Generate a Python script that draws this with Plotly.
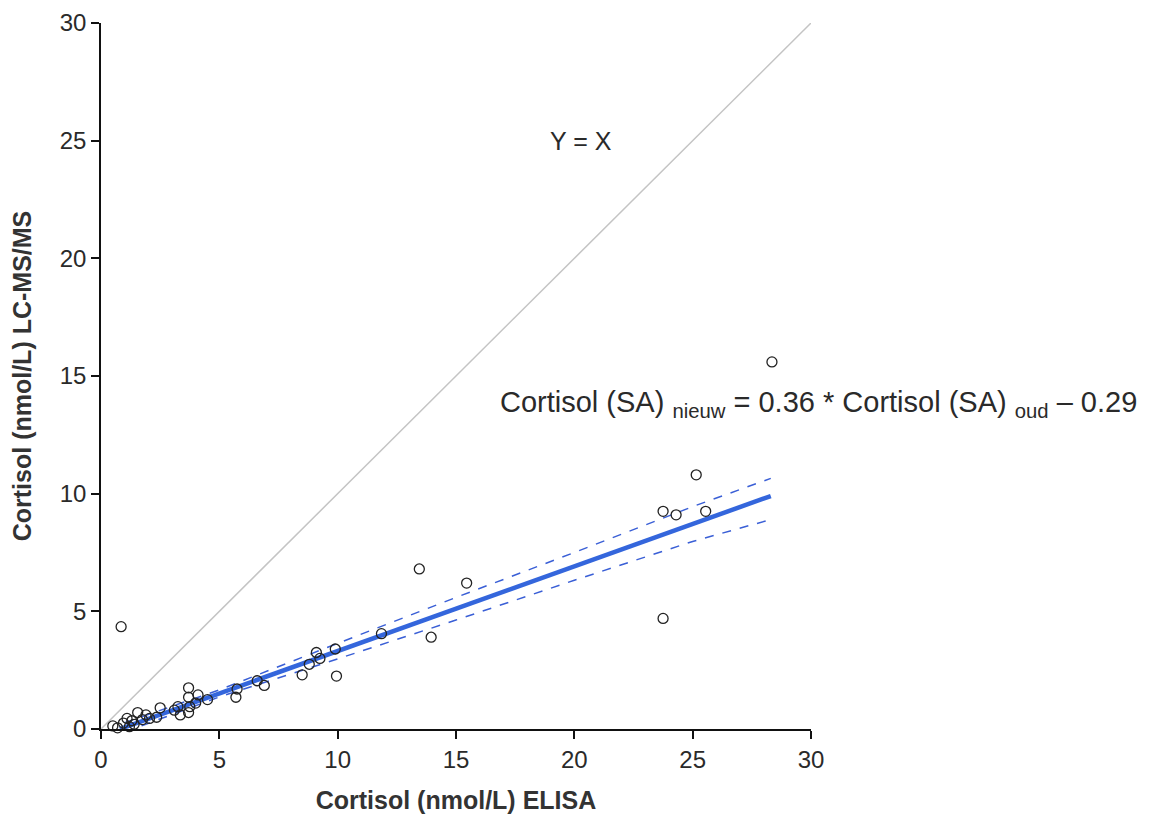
import plotly.graph_objects as go

# ELISA (x) vs LC-MS/MS (y) cortisol values
elisa = [0.85, 28.35, 25.15, 23.75, 24.3, 25.55, 23.75, 13.45, 15.45, 13.95, 11.85,
         9.95, 9.9, 9.1, 8.8, 9.25, 8.5, 6.9, 6.6, 5.75, 5.7, 4.5, 4.1, 3.7, 3.7,
         3.75, 3.35, 3.7, 3.25, 2.5, 1.55, 0.5, 0.95, 1.2, 1.1, 1.75, 2.05, 2.35,
         1.4, 0.7, 1.9, 3.1, 4.0, 1.3]
lcms = [4.35, 15.6, 10.8, 9.25, 9.1, 9.25, 4.7, 6.8, 6.2, 3.9, 4.05,
        2.25, 3.4, 3.25, 2.75, 3.0, 2.3, 1.85, 2.05, 1.7, 1.35, 1.25, 1.45, 1.75, 1.35,
        0.95, 0.6, 0.7, 0.95, 0.9, 0.7, 0.13, 0.25, 0.1, 0.45, 0.4, 0.45, 0.5,
        0.2, 0.05, 0.6, 0.8, 1.1, 0.35]

# Regression line and confidence band
fit_x = [0.8, 28.3]
fit_y = [0.0, 9.90]
ci_x = [1.0, 5.0, 10.0, 15.0, 20.0, 25.0, 28.3]
ci_upper = [0.27, 1.66, 3.64, 5.59, 7.50, 9.45, 10.65]
ci_lower = [-0.13, 1.36, 2.98, 4.63, 6.32, 7.97, 8.90]

identity_x = [0, 30]
identity_y = [0, 30]

ticks = [0, 5, 10, 15, 20, 25, 30]

FONT = "Liberation Sans, Arial"
TXT = "#2a2a2a"

fig = go.Figure()
fig.add_trace(go.Scatter(x=identity_x, y=identity_y, mode="lines",
                         line=dict(color="#c4c4c4", width=1.5), hoverinfo="skip"))
fig.add_trace(go.Scatter(x=ci_x, y=ci_upper, mode="lines",
                         line=dict(color="#3a5fd6", width=1.5, dash="dash")))
fig.add_trace(go.Scatter(x=ci_x, y=ci_lower, mode="lines",
                         line=dict(color="#3a5fd6", width=1.5, dash="dash")))
fig.add_trace(go.Scatter(x=fit_x, y=fit_y, mode="lines",
                         line=dict(color="#3466dc", width=4.5)))
fig.add_trace(go.Scatter(x=elisa, y=lcms, mode="markers", cliponaxis=False,
                         marker=dict(symbol="circle-open", size=10, color="#222222",
                                     line=dict(width=1.3, color="#222222"))))

fig.add_annotation(x=20.3, y=25.0, text="Y = X", showarrow=False,
                   font=dict(size=25, color=TXT, family=FONT))
fig.add_annotation(xref="paper", yref="paper", x=(818 - 101) / 710, y=(729 - 404) / 706,
                   text="Cortisol (SA) <sub>nieuw</sub> = 0.36 * Cortisol (SA) <sub>oud</sub> – 0.29",
                   showarrow=False, xanchor="center",
                   font=dict(size=29, color=TXT, family=FONT))

axis_common = dict(range=[0, 30], tickvals=ticks, ticks="outside", ticklen=8,
                   tickwidth=1.5, tickcolor="#111111", showline=True,
                   linecolor="#111111", linewidth=1.5, showgrid=False, zeroline=False,
                   automargin=False,
                   tickfont=dict(size=24, color=TXT, family=FONT))

fig.update_layout(
    width=1151, height=814,
    margin=dict(l=93, r=348, t=15, b=93),
    plot_bgcolor="white", paper_bgcolor="white",
    showlegend=False,
    xaxis=dict(**axis_common,
               title=dict(text="<b>Cortisol (nmol/L) ELISA</b>", standoff=20,
                          font=dict(size=25, color="#333333", family=FONT))),
    yaxis=dict(**axis_common,
               title=dict(text="<b>Cortisol (nmol/L) LC-MS/MS</b>", standoff=22,
                          font=dict(size=25, color="#333333", family=FONT))),
)

fig.write_html("out.html")
